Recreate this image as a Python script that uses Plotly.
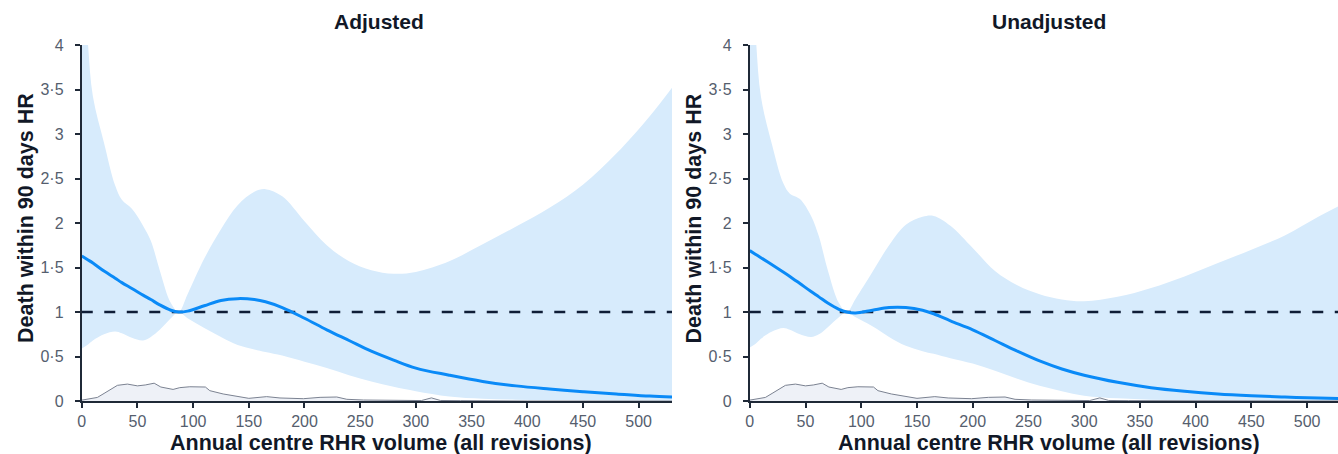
import plotly.graph_objects as go

# Annual centre volume grid (shared by both panels)
volume = [0, 5, 10, 20, 30, 36, 45, 55, 62, 70, 80, 87, 95, 110, 125, 140, 155, 165,
          180, 200, 220, 240, 260, 280, 300, 330, 360, 390, 420, 450, 480, 510, 530]

# Adjusted model: hazard ratio and 95% CI
adj_hr = [1.63, 1.59, 1.55, 1.46, 1.38, 1.33, 1.265, 1.19, 1.14, 1.08, 1.02, 1.00, 1.01,
          1.07, 1.13, 1.15, 1.14, 1.115, 1.05, 0.93, 0.80, 0.68, 0.56, 0.46, 0.37, 0.29,
          0.22, 0.17, 0.135, 0.105, 0.08, 0.055, 0.045]
adj_upper = [4.8, 4.1, 3.42, 2.9, 2.42, 2.26, 2.16, 1.97, 1.8, 1.47, 1.1, 1.0, 1.2, 1.6,
             1.93, 2.2, 2.35, 2.38, 2.3, 2.02, 1.75, 1.57, 1.47, 1.43, 1.45, 1.57, 1.76,
             1.96, 2.17, 2.43, 2.78, 3.2, 3.52]
adj_lower = [0.59, 0.63, 0.68, 0.75, 0.78, 0.76, 0.71, 0.68, 0.72, 0.8, 0.93, 1.0, 0.93,
             0.82, 0.72, 0.63, 0.58, 0.55, 0.51, 0.44, 0.37, 0.29, 0.22, 0.16, 0.11, 0.05,
             0.025, 0.015, 0.01, 0.008, 0.006, 0.005, 0.004]

# Unadjusted model: hazard ratio and 95% CI
unadj_hr = [1.69, 1.65, 1.61, 1.53, 1.45, 1.40, 1.32, 1.23, 1.17, 1.10, 1.03, 1.00, 0.99,
            1.02, 1.05, 1.05, 1.02, 0.98, 0.90, 0.80, 0.68, 0.56, 0.45, 0.36, 0.29, 0.21,
            0.15, 0.11, 0.08, 0.06, 0.045, 0.033, 0.027]
unadj_upper = [4.9, 4.15, 3.42, 2.88, 2.45, 2.33, 2.27, 2.08, 1.85, 1.47, 1.1, 1.0, 1.15,
               1.45, 1.75, 1.98, 2.07, 2.08, 1.97, 1.72, 1.46, 1.3, 1.2, 1.14, 1.12, 1.17,
               1.27, 1.4, 1.55, 1.70, 1.86, 2.07, 2.2]
unadj_lower = [0.6, 0.64, 0.7, 0.78, 0.82, 0.8, 0.75, 0.72, 0.75, 0.83, 0.94, 1.0, 0.94,
               0.84, 0.72, 0.62, 0.56, 0.53, 0.48, 0.42, 0.34, 0.25, 0.17, 0.11, 0.06,
               0.03, 0.015, 0.01, 0.008, 0.006, 0.005, 0.004, 0.003]

# Distribution of centre volumes (density, drawn on the HR scale)
dens_x = [0, 14, 20, 32, 41, 50, 57, 65, 71, 82, 88, 97, 111, 115, 127, 139, 150, 166,
          178, 199, 214, 229, 238, 253, 283, 305, 314, 322, 340, 370, 400, 530]
dens_y = [0.01, 0.04, 0.085, 0.176, 0.19, 0.17, 0.18, 0.2, 0.157, 0.13, 0.15, 0.16,
          0.157, 0.116, 0.079, 0.056, 0.03, 0.049, 0.034, 0.026, 0.041, 0.045, 0.019,
          0.011, 0.004, 0.005, 0.035, 0.006, 0.004, 0.002, 0.0, 0.0]

x_ticks = [0, 50, 100, 150, 200, 250, 300, 350, 400, 450, 500]
y_ticks = [0, 0.5, 1, 1.5, 2, 2.5, 3, 3.5, 4]
y_ticktext = ["0", "0·5", "1", "1·5", "2", "2·5", "3", "3·5", "4"]

panels = [
    ("Adjusted", adj_hr, adj_upper, adj_lower, "x", "y"),
    ("Unadjusted", unadj_hr, unadj_upper, unadj_lower, "x2", "y2"),
]

BAND = "rgb(215,235,252)"
LINE = "#0a8af7"
REF = "#0f1d36"
AXIS = "#1f2937"
FONT = "Liberation Sans, Arial, sans-serif"

W, H = 1338, 454
M_T, M_B = 45, 53
plot_h = H - M_T - M_B

fig = go.Figure()
for name, hr, up, lo, xa, ya in panels:
    fig.add_trace(go.Scatter(x=volume, y=lo, mode="lines", line=dict(width=0, shape="spline"),
                             xaxis=xa, yaxis=ya, hoverinfo="skip", showlegend=False))
    fig.add_trace(go.Scatter(x=volume, y=up, mode="lines", line=dict(width=0, shape="spline"),
                             fill="tonexty", fillcolor=BAND, xaxis=xa, yaxis=ya,
                             hoverinfo="skip", showlegend=False))
    fig.add_trace(go.Scatter(x=dens_x, y=dens_y, mode="lines",
                             line=dict(color="#7b8291", width=1), fill="tozeroy",
                             fillcolor="rgba(226,231,241,0.6)", xaxis=xa, yaxis=ya,
                             hoverinfo="skip", showlegend=False))
    fig.add_trace(go.Scatter(x=[0, 530], y=[1, 1], mode="lines",
                             line=dict(color=REF, width=2.6, dash="11px,11.5px"),
                             xaxis=xa, yaxis=ya, hoverinfo="skip", showlegend=False))
    fig.add_trace(go.Scatter(x=volume, y=hr, mode="lines",
                             line=dict(color=LINE, width=3, shape="spline"),
                             xaxis=xa, yaxis=ya, name=name, showlegend=False))

axis_common = dict(showline=True, linecolor=AXIS, linewidth=2, ticks="outside", ticklen=5,
                   tickwidth=1.5, tickcolor=AXIS, showgrid=False, zeroline=False,
                   tickfont=dict(family=FONT, size=16, color="#555e6e"))

fig.update_layout(
    width=W, height=H,
    margin=dict(l=0, r=0, t=M_T, b=M_B),
    paper_bgcolor="white", plot_bgcolor="white",
    font=dict(family=FONT),
    xaxis=dict(domain=[78 / W, 670 / W], range=[0, 530], tickvals=x_ticks, anchor="y",
               **axis_common),
    yaxis=dict(domain=[0, 1], range=[0, 4], tickvals=y_ticks, ticktext=y_ticktext,
               anchor="x", ticklabelstandoff=8, **axis_common),
    xaxis2=dict(domain=[748 / W, 1.0], range=[0, 527.7], tickvals=x_ticks, anchor="y2",
                **axis_common),
    yaxis2=dict(domain=[0, 1], range=[0, 4], tickvals=y_ticks, ticktext=y_ticktext,
                anchor="x2", ticklabelstandoff=8, **axis_common),
)


def py(px):
    return (H - M_B - px) / plot_h


title_font = dict(family=FONT, size=21, color="#111827")
label_font = dict(family=FONT, size=21.5, color="#111827")

annotations = [
    dict(text="<b>Adjusted</b>", x=376 / W, y=py(22), font=title_font),
    dict(text="<b>Unadjusted</b>", x=1048 / W, y=py(22), font=title_font),
    dict(text="<b>Annual centre RHR volume (all revisions)</b>", x=378 / W, y=py(443),
         font=label_font),
    dict(text="<b>Annual centre RHR volume (all revisions)</b>", x=1048 / W, y=py(443),
         font=label_font),
    dict(text="<b>Death within 90 days HR</b>", x=22 / W, y=py(218), textangle=-90,
         font=label_font),
    dict(text="<b>Death within 90 days HR</b>", x=692.5 / W, y=py(218), textangle=-90,
         font=label_font),
]
for a in annotations:
    a.update(xref="paper", yref="paper", showarrow=False, xanchor="center", yanchor="middle")
fig.update_layout(annotations=annotations)

fig.write_html("out.html")
